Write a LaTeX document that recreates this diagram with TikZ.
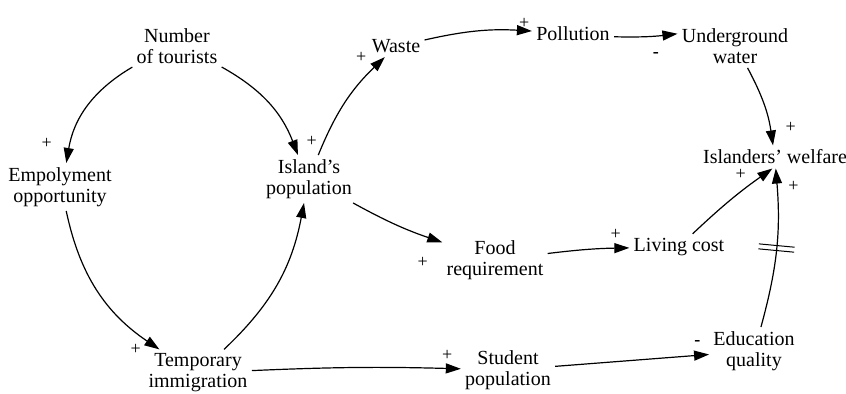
\documentclass[tikz,border=0pt]{standalone}
\usepackage{fontspec}
\setmainfont{Liberation Serif}
\usetikzlibrary{arrows.meta,decorations.markings}
\tikzstyle{arrow} = [line width=0.6pt,-{Triangle[length=7.5pt,width=5pt]}]
\tikzstyle{pol} = [font=\rmfamily\fontsize{9}{9}\selectfont,inner sep=1pt]
\tikzstyle{delay} = [postaction={decorate},decoration={markings,mark=at position 0.5 with {\draw[-,line width=0.5pt] (-2,-18) -- (-2,18); \draw[-,line width=0.5pt] (3,-18) -- (3,18);}}]

\begin{document}
\begin{tikzpicture}[x=0.5pt,y=0.5pt,varnode/.style={align=center,font=\rmfamily\fontsize{10}{10.5}\selectfont,inner sep=2pt},]
        \useasboundingbox (0,0) rectangle (846,-394);
        % \node [options] (var) at (x,-y) {label};
        \node[varnode] (tour) at (177,-46) {Number\\of tourists};
        \node[varnode] (emp) at (60,-187) {Empolyment\\opportunity};
        \node[varnode] (isl) at (309,-179) {Island's\\population};
        \node[varnode] (waste) at (396,-46) {Waste};
        \node[varnode] (poll) at (573,-34) {Pollution};
        \node[varnode] (water) at (735,-46) {Underground\\water};
        \node[varnode] (welf) at (775,-157) {Islanders' welfare};
        \node[varnode] (food) at (495,-260) {Food\\requirement};
        \node[varnode] (cost) at (679,-247) {Living cost};
        \node[varnode] (temp) at (198,-373) {Temporary\\immigration};
        \node[varnode] (stud) at (508,-370) {Student\\population};
        \node[varnode] (edu) at (754,-351) {Education\\quality};

        % tourists -> employment, island
        \draw[arrow] (tour) edge[bend right=25] node[pol,at end,above left=6] {+} (emp); % +
        \draw[arrow] (tour) edge[bend left=20] node[pol,at end,above right=3] {+} (isl); % +

        % island -> waste -> pollution -> water -> welfare
        \draw[arrow] (isl) edge[bend left=12] node[pol,at end,left=8] {+} (waste); % +
        \draw[arrow] (waste) edge[bend left=8] node[pol,at end,above left] {+} (poll); % +
        \draw[arrow] (poll) edge[bend right=4] node[pol,at end,below left=8] {\textbf{-}} (water.168); % -
        \draw[arrow] (water) edge[bend left=10] node[pol,at end,above right=5] {+} (welf); % +

        % employment -> immigration -> island
        \draw[arrow] (emp) edge[bend right=22] node[pol,at end,left=8] {+} (temp); % +
        \draw[arrow] (temp) edge[bend right=18] (isl);

        % island -> food -> cost -> welfare
        \draw[arrow] (isl) edge[bend right=5] node[pol,at end,below left=6] {+} (food); % +
        \draw[arrow] (food) edge[bend left=3] node[pol,at end,above left=3] {+} (cost); % +
        \draw[arrow] (cost) edge[bend left=4] node[pol,at end,left=12,yshift=-3] {+} (welf.-103); % +

        % immigration -> students -> education -> welfare
        \draw[arrow] (temp) edge[bend left=2] node[pol,at end,above left=3] {+} (stud); % +
        \draw[arrow] (stud) edge node[pol,at end,above left=3] {\textbf{-}} (edu); % -
        \draw[arrow] (edu) edge[bend right=10,delay] node[pol,at end,below right=5] {+} (welf); % + (delay)
    \end{tikzpicture}
\end{document}
